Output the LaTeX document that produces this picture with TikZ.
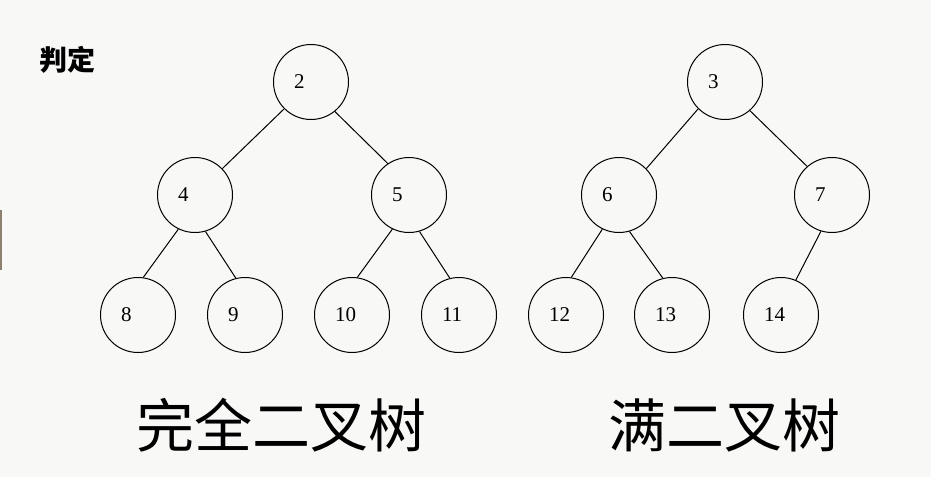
\documentclass[tikz,border=0pt]{standalone}
\usepackage{fontspec}
\setmainfont{Liberation Serif}
\newfontfamily\cjk{Noto Sans CJK SC}
\definecolor{bgc}{RGB}{248,248,247}
\definecolor{edgemark}{RGB}{140,128,110}
\begin{document}
\begin{tikzpicture}[x=1pt,y=-1pt,
  tn/.style={circle,draw,line width=1pt,minimum size=75pt,inner sep=0pt,
    text width=34pt,align=left,font=\fontsize{21}{21}\selectfont},
  edge/.style={line width=1pt},
  big/.style={inner sep=0pt,font=\cjk\fontsize{58}{58}\selectfont}]
\fill[bgc] (0,0) rectangle (931,477);
\useasboundingbox (0,0) rectangle (931,477);
\fill[edgemark] (0,210) rectangle (2,270);
\node[inner sep=0pt,font=\cjk\bfseries\fontsize{28}{28}\selectfont] (pd) at (67,60) {判定};
% tree 1
\node[tn] (n2) at (311,82) {2};
\node[tn] (n4) at (195,195) {4};
\node[tn] (n5) at (409,195) {5};
\node[tn] (n8) at (138,315) {8};
\node[tn] (n9) at (245,315) {9};
\node[tn] (n10) at (352,315) {10};
\node[tn] (n11) at (459,315) {11};
\draw[edge] (n2.225) -- (n4.44);
\draw[edge] (n2.309) -- (n5.124);
\draw[edge] (n4.244) -- (n8.82);
\draw[edge] (n4.286) -- (n9.104);
\draw[edge] (n5.244) -- (n10.82);
\draw[edge] (n5.286) -- (n11.104);
% tree 2
\node[tn] (n3) at (725,82) {3};
\node[tn] (n6) at (619,195) {6};
\node[tn] (n7) at (832,195) {7};
\node[tn] (n12) at (566,315) {12};
\node[tn] (n13) at (672,315) {13};
\node[tn] (n14) at (781,315) {14};
\draw[edge] (n3.225) -- (n6.44);
\draw[edge] (n3.311) -- (n7.131);
\draw[edge] (n6.244) -- (n12.82);
\draw[edge] (n6.286) -- (n13.104);
\draw[edge] (n7.253) -- (n14.67);
% captions
\node[big] (c1) at (281,425) {完全二叉树};
\node[big] (c2) at (724,425) {满二叉树};
\end{tikzpicture}
\end{document}
